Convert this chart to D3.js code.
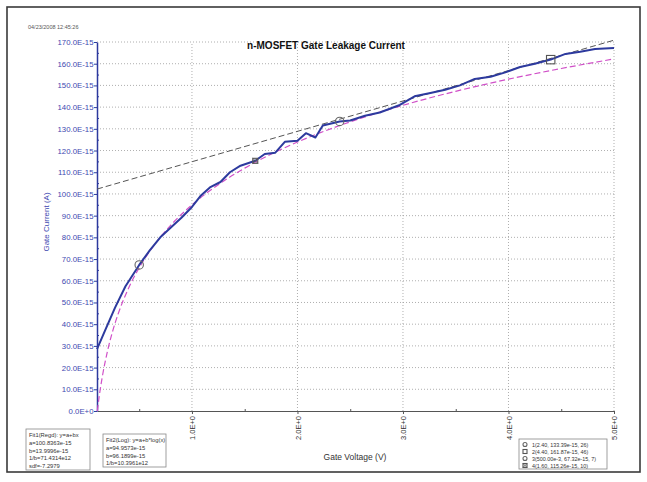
<!DOCTYPE html>
<html><head><meta charset="utf-8">
<script src="https://cdn.jsdelivr.net/npm/d3@7"></script>
<style>
body{margin:0;background:#fff;}
svg{display:block;font-family:"Liberation Sans",Arial,sans-serif;}
</style></head>
<body>
<svg id="chart" width="647" height="482"></svg>
<script>
// ---- data (current in units of 1e-15 A, voltage in V) ----
const voltage = [0.10,0.18,0.27,0.37,0.50,0.60,0.70,0.80,0.90,1.00,1.08,1.17,1.27,1.36,1.46,1.60,1.69,1.79,1.88,2.00,2.08,2.17,2.24,2.40,2.50,2.64,2.78,2.97,3.11,3.26,3.40,3.54,3.68,3.83,3.97,4.11,4.25,4.40,4.54,4.68,4.82,5.00];
const current = [28.5,37.5,47.5,57.5,67.3,74.0,80.0,84.5,89.0,94.0,99.0,103.0,105.5,110.0,113.0,115.3,118.4,119.0,124.0,124.5,128.0,126.0,131.5,133.4,133.8,136.0,137.5,141.0,145.0,146.5,148.0,150.0,153.0,154.0,156.0,158.5,160.0,161.9,164.5,165.5,166.8,167.2];
// Fit1 (linear) line end points
const fit1X = [0.10, 5.00];
const fit1Y = [102.24, 170.83];
// Fit2 (log) curve read points
const fit2X = [0.103,0.12,0.15,0.2,0.25,0.3,0.4,0.5,0.6,0.7,0.8,1.0,1.25,1.5,2.0,2.5,3.0,3.5,4.0,4.5,5.0];
const fit2Y = [0,6.39,15.71,27.72,37.05,44.66,56.68,66.00,73.62,80.06,85.64,94.96,104.28,111.90,123.91,133.23,140.85,147.29,152.87,157.79,162.19];
// markers
const markerX = [2.40, 4.40, 0.50, 1.60];
const markerY = [133.39, 161.87, 67.32, 115.26];
const markerShape = ["circle","square","circle","xsquare"];
const markerLabels = ["1(2.40, 133.39e-15, 26)","2(4.40, 161.87e-15, 46)","3(500.00e-3, 67.32e-15, 7)","4(1.60, 115.26e-15, 10)"];
// ticks
const yTicks = d3.range(0, 171, 10);
const yMinor = d3.range(5, 170, 10);
const xTicks = [1,2,3,4,5];
const xMinor = [0.5,1.5,2.5,3.5,4.5];
const fit1Text = ["Fit1(Regd): y=a+bx","a=100.8363e-15","b=13.9996e-15","1/b=71.4314e12","sdf=-7.2979"];
const fit2Text = ["Fit2(Log): y=a+b*log(x)","a=94.9573e-15","b=96.1899e-15","1/b=10.3961e12"];

const svg = d3.select("#chart");
const x = d3.scaleLinear().domain([0.1, 5.0]).range([97, 614]);
const y = d3.scaleLinear().domain([0, 170]).range([411, 42]);

// frame
svg.append("rect").attr("x",7).attr("y",7).attr("width",633).attr("height",465)
  .attr("fill","none").attr("stroke","#3a3a3a").attr("stroke-width",1.6);

// date
svg.append("text").attr("x",28).attr("y",29).attr("font-size",5.5).attr("fill","#555").text("04/23/2008 12:45:26");

// grid
const grid = svg.append("g").attr("stroke","#9a9a9a").attr("stroke-width",0.8).attr("stroke-dasharray","1,2");
grid.selectAll("line.h").data(yTicks.filter(d=>d>0)).join("line")
  .attr("x1",x(0.1)).attr("x2",x(5)).attr("y1",d=>y(d)).attr("y2",d=>y(d));
grid.selectAll("line.v").data(xTicks).join("line").attr("class","v")
  .attr("x1",d=>x(d)).attr("x2",d=>x(d)).attr("y1",y(0)).attr("y2",y(170));

// x axis
const xAxis = svg.append("g").attr("transform",`translate(0,${y(0)})`)
  .call(d3.axisBottom(x).tickValues(xTicks).tickSize(3).tickSizeOuter(0).tickFormat(d=>d.toFixed(1)+"E+0"));
xAxis.select(".domain").attr("stroke","#555");
xAxis.selectAll(".tick line").attr("stroke","#555");
xAxis.selectAll("text").attr("transform","rotate(-90)").attr("text-anchor","end")
  .attr("x",-5).attr("y",0).attr("dy","0.35em").attr("font-size",7.5).attr("fill","#333")
  .attr("font-family","Liberation Sans,Arial,sans-serif");
const xm = svg.append("g").attr("transform",`translate(0,${y(0)})`)
  .call(d3.axisBottom(x).tickValues(xMinor).tickSize(-2).tickSizeOuter(0).tickFormat(""));
xm.select(".domain").remove();
xm.selectAll(".tick line").attr("stroke","#555");

// y axis
const blue = "#2d3a9e";
const yAxis = svg.append("g").attr("transform",`translate(${x(0.1)},0)`)
  .call(d3.axisLeft(y).tickValues(yTicks).tickSize(3).tickSizeOuter(0)
    .tickFormat(d=>d===0?"0.0E+0":d.toFixed(1)+"E-15"));
yAxis.select(".domain").attr("stroke",blue).attr("stroke-width",1.5);
yAxis.selectAll(".tick line").attr("stroke",blue);
yAxis.selectAll("text").attr("font-size",7.8).attr("fill","#4048b0").attr("x",-3.5)
  .attr("font-family","Liberation Sans,Arial,sans-serif");
const ym = svg.append("g").attr("transform",`translate(${x(0.1)},0)`)
  .call(d3.axisRight(y).tickValues(yMinor).tickSize(2).tickSizeOuter(0).tickFormat(""));
ym.select(".domain").remove();
ym.selectAll(".tick line").attr("stroke",blue);

// axis titles
svg.append("text").attr("transform","translate(49,222) rotate(-90)").attr("text-anchor","middle")
  .attr("font-size",8).attr("fill","#4048b0").text("Gate Current (A)");
svg.append("text").attr("x",355).attr("y",460).attr("text-anchor","middle")
  .attr("font-size",8.5).attr("fill","#333").text("Gate Voltage (V)");

// title
svg.append("text").attr("x",326).attr("y",49).attr("text-anchor","middle")
  .attr("font-size",10).attr("font-weight","bold").attr("fill","#111").text("n-MOSFET Gate Leakage Current");

// fit lines
const line = d3.line().x(d=>x(d[0])).y(d=>y(d[1]));
svg.append("path").datum(fit1X.map((v,i)=>[v,fit1Y[i]])).attr("d",line)
  .attr("fill","none").attr("stroke","#555").attr("stroke-width",1).attr("stroke-dasharray","6,3");
svg.append("path").datum(fit2X.map((v,i)=>[v,fit2Y[i]])).attr("d",d3.line().curve(d3.curveMonotoneX).x(d=>x(d[0])).y(d=>y(d[1])))
  .attr("fill","none").attr("stroke","#d050c8").attr("stroke-width",1.2).attr("stroke-dasharray","6,3");

// data line
svg.append("path").datum(voltage.map((v,i)=>[v,current[i]])).attr("d",line)
  .attr("fill","none").attr("stroke",blue).attr("stroke-width",2).attr("stroke-linejoin","round");

// markers
function drawMarker(g, shape, cx, cy, s){
  if(shape==="circle"){
    g.append("circle").attr("cx",cx).attr("cy",cy).attr("r",s).attr("fill","none").attr("stroke","#666").attr("stroke-width",1.1);
  } else {
    g.append("rect").attr("x",cx-s).attr("y",cy-s).attr("width",2*s).attr("height",2*s).attr("fill","none").attr("stroke","#555").attr("stroke-width",1.1);
    if(shape==="xsquare"){
      g.append("path").attr("d",`M${cx-s},${cy-s}L${cx+s},${cy+s}M${cx+s},${cy-s}L${cx-s},${cy+s}`).attr("stroke","#555").attr("stroke-width",0.8);
    }
  }
}
const mg = svg.append("g");
markerX.forEach((v,i)=>{
  const s = markerShape[i]==="xsquare" ? 2.5 : 4.2;
  drawMarker(mg, markerShape[i], x(v), y(markerY[i]), s);
});

// fit text boxes
function textBox(x0,y0,w,h,lines){
  const g = svg.append("g");
  g.append("rect").attr("x",x0).attr("y",y0).attr("width",w).attr("height",h)
    .attr("fill","#fff").attr("stroke","#888").attr("stroke-width",0.8);
  lines.forEach((t,i)=>g.append("text").attr("x",x0+3).attr("y",y0+8+i*7.8).attr("font-size",5.8).attr("fill","#333").text(t));
}
textBox(26,429,64,41,fit1Text);
textBox(103,434,63,33,fit2Text);

// marker legend
const lg = svg.append("g");
lg.append("rect").attr("x",519).attr("y",439).attr("width",88).attr("height",30)
  .attr("fill","#fff").attr("stroke","#888").attr("stroke-width",0.8);
markerLabels.forEach((t,i)=>{
  const cy = 444.5 + i*7;
  drawMarker(lg, markerShape[i], 525, cy, 2);
  lg.append("text").attr("x",532).attr("y",cy+2).attr("font-size",5.4).attr("fill","#333").text(t);
});
</script>
</body></html>
